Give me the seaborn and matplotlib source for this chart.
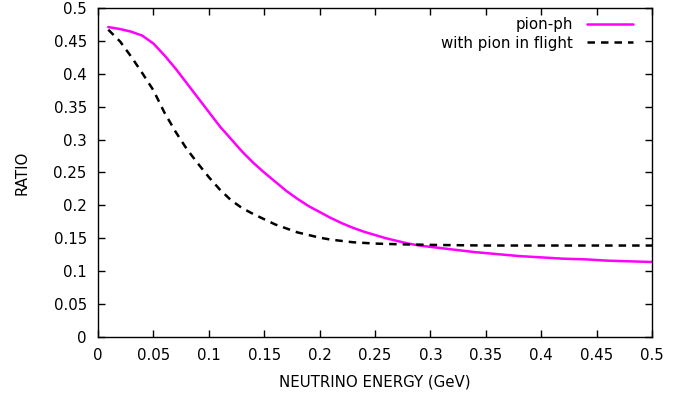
import matplotlib
matplotlib.use("Agg")
import matplotlib.pyplot as plt
import seaborn as sns
import pandas as pd

# energies (GeV) and ratios
energy_ph = [0.0093, 0.02, 0.03, 0.04, 0.05, 0.06, 0.07, 0.08, 0.09, 0.10, 0.11, 0.12,
             0.13, 0.14, 0.15, 0.16, 0.17, 0.18, 0.19, 0.20, 0.21, 0.22, 0.23, 0.24,
             0.25, 0.26, 0.27, 0.28, 0.29, 0.30, 0.32, 0.34, 0.36, 0.38, 0.40, 0.42,
             0.44, 0.46, 0.48, 0.50]
ratio_ph = [0.471, 0.468, 0.464, 0.458, 0.446, 0.428, 0.408, 0.386, 0.364, 0.342, 0.320, 0.301,
            0.282, 0.265, 0.250, 0.236, 0.222, 0.210, 0.199, 0.190, 0.181, 0.173, 0.166, 0.160,
            0.155, 0.150, 0.146, 0.142, 0.139, 0.137, 0.133, 0.129, 0.126, 0.123, 0.121, 0.119,
            0.118, 0.116, 0.115, 0.114]

energy_fl = [0.0093, 0.02, 0.03, 0.04, 0.05, 0.06, 0.07, 0.08, 0.09, 0.10, 0.11, 0.12,
             0.13, 0.14, 0.15, 0.16, 0.17, 0.18, 0.19, 0.20, 0.21, 0.22, 0.23, 0.24,
             0.25, 0.27, 0.30, 0.35, 0.40, 0.50]
ratio_fl = [0.467, 0.449, 0.426, 0.401, 0.375, 0.341, 0.312, 0.286, 0.264, 0.243, 0.224, 0.208,
            0.196, 0.187, 0.179, 0.171, 0.165, 0.159, 0.155, 0.151, 0.148, 0.146, 0.144, 0.143,
            0.142, 0.141, 0.140, 0.139, 0.139, 0.139]

labels = ["pion-ph", "with pion in flight"]

df = pd.concat([
    pd.DataFrame({"E": energy_ph, "R": ratio_ph, "curve": labels[0]}),
    pd.DataFrame({"E": energy_fl, "R": ratio_fl, "curve": labels[1]}),
])

sns.set_style("ticks")
plt.rcParams["font.family"] = ["DejaVu Sans"]
plt.rcParams["text.color"] = "black"
plt.rcParams["axes.labelcolor"] = "black"
FS = 10.8

fig = plt.figure(figsize=(6.91, 3.96), dpi=100)
ax = fig.add_axes([0.1418, 0.149, 0.8018, 0.8308])

sns.lineplot(data=df, x="E", y="R", hue="curve", style="curve",
             palette={labels[0]: "#ff00ff", labels[1]: "black"},
             dashes={labels[0]: "", labels[1]: (3.0, 2.4)},
             sort=False, ax=ax, linewidth=1.8)

ax.set_xlim(0, 0.5)
ax.set_ylim(0, 0.5)
ticks = [i * 0.05 for i in range(11)]
ax.set_xticks(ticks)
ax.set_yticks(ticks)
fmt = lambda v: "0" if v == 0 else ("%g" % round(v, 2))
ax.set_xticklabels([fmt(t) for t in ticks])
ax.set_yticklabels([fmt(t) for t in ticks])
ax.tick_params(direction="in", top=True, right=True, length=5, width=1,
               labelsize=FS, colors="black", pad=8)
for s in ax.spines.values():
    s.set_linewidth(1)
    s.set_color("black")

ax.set_xlabel("NEUTRINO ENERGY (GeV)", fontsize=FS, labelpad=8.5, color="black")
ax.set_ylabel("RATIO", fontsize=FS, labelpad=17, color="black")

leg = ax.legend(title=None, loc="upper right", frameon=False, markerfirst=False,
                fontsize=FS, handlelength=3.07, labelspacing=0.22,
                borderaxespad=0.4, handletextpad=0.93,
                bbox_to_anchor=(1 - 7 / 554, 1.008))
for t in leg.get_texts():
    t.set_color("black")

fig.savefig("out.png", dpi=100)
